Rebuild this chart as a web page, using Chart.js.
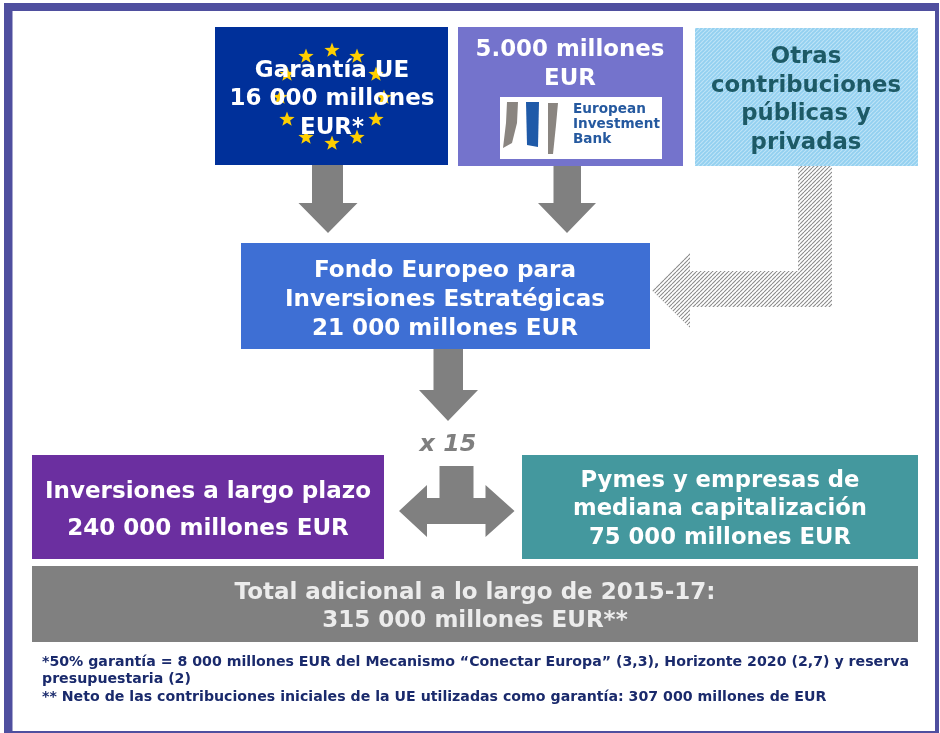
<!DOCTYPE html>
<html><head><meta charset="utf-8">
<style>html,body{margin:0;padding:0;background:#fff}canvas{display:block;filter:blur(0.5px)}</style>
<script src="https://cdn.jsdelivr.net/npm/chart.js@4"></script>
</head><body><canvas id="c" width="940" height="733"></canvas>
<script>
// Diagram content
const euLines = ["Garantía UE","16 000 millones","EUR*"];
const eibLines = ["5.000 millones","EUR"];
const otherLines = ["Otras","contribuciones","públicas y","privadas"];
const fundLines = ["Fondo Europeo para","Inversiones Estratégicas","21 000 millones EUR"];
const multiplierLabel = ["x 15"];
const longTermLines = ["Inversiones a largo plazo","240 000 millones EUR"];
const smeLines = ["Pymes y empresas de","mediana capitalización","75 000 millones EUR"];
const totalLines = ["Total adicional a lo largo de 2015-17:","315 000 millones EUR**"];
const logoLines = ["European","Investment","Bank"];
const noteLines = ["*50% garantía = 8 000 millones EUR del Mecanismo “Conectar Europa” (3,3), Horizonte 2020 (2,7) y reserva","presupuestaria (2)","** Neto de las contribuciones iniciales de la UE utilizadas como garantía: 307 000 millones de EUR"];

// Diagram geometry, in the units of the two hidden linear axes
const rectBox = (x0,y0,x1,y1)=>[[x0,y0],[x1,y0],[x1,y1],[x0,y1],[x0,y0]];
const downArrow = (sl,sr,top,neck,hl,hr,tx,ty)=>[[sl,top],[sr,top],[sr,neck],[hr,neck],[tx,ty],[hl,neck],[sl,neck],[sl,top]];
const pt = a=>a.map(p=>({x:p[0],y:p[1]}));

const starX = [332,357,376,384,376,357,332,306,287,280,287,306];
const starY = [50,56,74,97,119,137,143,137,119,97,74,56];

const hatch = (bg,fg,size,w)=>{
  const c=document.createElement('canvas');c.width=c.height=size;const g=c.getContext('2d');
  g.fillStyle=bg;g.fillRect(0,0,size,size);g.strokeStyle=fg;g.lineWidth=w;
  for(let i=-size;i<=size*2;i+=size){g.beginPath();g.moveTo(i,size);g.lineTo(i+size,0);g.stroke();}
  return g.createPattern(c,'repeat');
};
const starImg=(()=>{
  const s=16,c=document.createElement('canvas');c.width=c.height=s;const g=c.getContext('2d');
  g.fillStyle='#ffcf00';g.beginPath();
  for(let i=0;i<10;i++){const r=i%2?3.3:8,a=-Math.PI/2+i*Math.PI/5;g.lineTo(8+r*Math.cos(a),8.4+r*Math.sin(a));}
  g.closePath();g.fill();return c;
})();

const shape=(pts,fill)=>({type:'line',data:pt(pts),fill:'shape',backgroundColor:fill,borderWidth:0,borderColor:'transparent',pointRadius:0,tension:0});

const hatchGrey=hatch('#ffffff','#8a8a8a',4,1.1);
const hatchBlue=hatch('#93d0f0','#bde3f6',4,1.2);

const datasets=[
  shape(rectBox(4,3,939,733),'#4f4f9f'),
  shape(rectBox(12.5,11,935,731),'#ffffff'),
  shape(rectBox(215,27,448,165),'#00309a'),
  shape(rectBox(458,27,683,166),'#7473cc'),
  shape(rectBox(500,97,662,159),'#ffffff'),
  shape([[507,102],[518,102],[517,123],[512,143],[503,148],[506,123],[507,102]],'#8a8580'),
  shape([[526,102],[539,102],[538,147],[527,145],[526,102]],'#1f5aa8'),
  shape([[548,103],[558,103],[556,125],[553,154],[548,154],[548,103]],'#8a8580'),
  shape(rectBox(695,28,918,166),hatchBlue),
  shape(downArrow(312,343,165,203,298.5,357.5,328,233),'#808080'),
  shape(downArrow(553.5,581,166,203,538,596,567,233),'#808080'),
  shape([[798,166],[832,166],[832,307],[690,307],[690,328],[651.5,290],[690,252],[690,271],[798,271],[798,166]],hatchGrey),
  shape(rectBox(241,243,650,349),'#3e6fd4'),
  shape(downArrow(433.5,463,349,390,419,478,448,421),'#808080'),
  shape(rectBox(32,455,384,559),'#6b2fa0'),
  shape(rectBox(522,455,918,559),'#44989e'),
  shape([[439.5,466],[473.5,466],[473.5,498],[485.5,498],[485.5,485],[514.5,511],[485.5,537],[485.5,524],[427,524],[427,537],[399,511],[427,485],[427,498],[439.5,498],[439.5,466]],'#808080'),
  shape(rectBox(32,566,918,642),'#808080'),
  {type:'scatter',data:starX.map((x,i)=>({x,y:starY[i]})),pointStyle:starImg,pointRadius:8,showLine:false}
].reverse();

// Text blocks: lines, centre x (or left x), middle y of each line, width of widest line
const textBlocks=[
  {lines:euLines,x:332,ys:[71.5,99.5,128.5],w:205,size:23,color:'#ffffff'},
  {lines:eibLines,x:570,ys:[50.5,79.5],w:189,size:23,color:'#ffffff'},
  {lines:otherLines,x:806,ys:[57.5,86.5,114.5,143.5],w:190,size:23,color:'#1d5a66'},
  {lines:fundLines,x:445,ys:[271.5,300.5,329.5],w:320,size:23,color:'#ffffff'},
  {lines:multiplierLabel,x:448,ys:[445.5],w:57,size:23,color:'#7f7f7f',italic:true},
  {lines:longTermLines,x:208,ys:[492.5,529.5],w:326,size:23,color:'#ffffff'},
  {lines:smeLines,x:720,ys:[481.5,509.5,538.5],w:294,size:23,color:'#ffffff'},
  {lines:totalLines,x:475,ys:[593.5,621.5],w:481,size:23,color:'#ececec'},
  {lines:logoLines,x:573,ys:[109,124,139],w:87,size:14,color:'#25599f',left:true},
  {lines:noteLines,x:42,ys:[662,679,697],w:867,size:14,color:'#1a2a6c',left:true}
];

const textPlugin={id:'diagramText',afterDatasetsDraw(chart){
  const {ctx,scales:{x,y}}=chart;ctx.save();ctx.textBaseline='middle';
  for(const b of textBlocks){
    ctx.font=`${b.italic?'italic ':''}bold ${b.size}px "DejaVu Sans"`;ctx.fillStyle=b.color;
    const k=b.w/Math.max(...b.lines.map(l=>ctx.measureText(l).width));
    b.lines.forEach((l,i)=>{
      ctx.save();ctx.translate(x.getPixelForValue(b.x),y.getPixelForValue(b.ys[i]));ctx.scale(k,1);
      ctx.textAlign=b.left?'left':'center';ctx.fillText(l,0,0);ctx.restore();
    });
  }
  ctx.restore();
}};

new Chart(document.getElementById('c'),{
  type:'scatter',
  data:{datasets},
  options:{responsive:false,animation:false,events:[],layout:{padding:0,autoPadding:false},
    plugins:{legend:{display:false},tooltip:{enabled:false},title:{display:false}},
    datasets:{line:{clip:false}},
    elements:{point:{radius:0}},
    scales:{x:{type:'linear',min:0,max:940,display:false},y:{type:'linear',min:0,max:733,reverse:true,display:false}}},
  plugins:[textPlugin]
});
</script></body></html>
